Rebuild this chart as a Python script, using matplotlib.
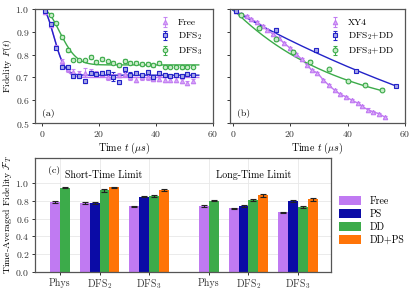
import matplotlib
matplotlib.use("Agg")
import matplotlib.pyplot as plt
import numpy as np

plt.rcParams["font.family"] = ["cmr10", "DejaVu Serif"]
plt.rcParams["mathtext.fontset"] = "cm"
plt.rcParams["axes.formatter.use_mathtext"] = True
plt.rcParams["font.size"] = 7

# panel (a): free decay
t_free = [1, 3, 5, 7, 9, 11, 13, 15, 17, 19, 21, 23, 25, 27, 29, 31, 33, 35, 37, 39, 41, 43, 45, 47, 49, 51, 53]
f_free = [0.985, 0.93, 0.835, 0.77, 0.735, 0.725, 0.72, 0.72, 0.725, 0.72, 0.715, 0.70, 0.705, 0.71, 0.715,
          0.70, 0.69, 0.70, 0.70, 0.695, 0.695, 0.69, 0.69, 0.69, 0.685, 0.675, 0.685]
e_free = [0.005, 0.008, 0.008, 0.01, 0.01, 0.01, 0.01, 0.02, 0.01, 0.01, 0.01, 0.01, 0.01, 0.01, 0.01,
          0.01, 0.01, 0.01, 0.01, 0.01, 0.01, 0.01, 0.01, 0.01, 0.01, 0.01, 0.01]
t_dfs2 = [1, 3, 5, 7, 9, 11, 13, 15, 17, 19, 21, 23, 25, 27, 29, 31, 33, 35, 37, 39, 41, 43, 45, 47, 49, 51, 53]
f_dfs2 = [0.99, 0.934, 0.831, 0.748, 0.748, 0.707, 0.707, 0.685, 0.72, 0.715, 0.719, 0.722, 0.704, 0.678,
          0.735, 0.712, 0.72, 0.709, 0.722, 0.70, 0.72, 0.71, 0.707, 0.712, 0.706, 0.715, 0.71]
e_dfs2 = [0.006, 0.008, 0.008, 0.008, 0.008, 0.01, 0.01, 0.01, 0.008, 0.008, 0.008, 0.01, 0.02, 0.008,
          0.01, 0.01, 0.008, 0.008, 0.01, 0.01, 0.008, 0.008, 0.008, 0.008, 0.008, 0.008, 0.008]
t_dfs3 = [3, 5, 7, 9, 11, 13, 15, 17, 19, 21, 23, 25, 27, 29, 31, 33, 35, 37, 39, 41, 43, 45, 47, 49, 51, 53]
f_dfs3 = [0.975, 0.938, 0.876, 0.82, 0.778, 0.775, 0.775, 0.79, 0.768, 0.78, 0.77, 0.765, 0.755, 0.772,
          0.765, 0.765, 0.76, 0.76, 0.755, 0.762, 0.748, 0.748, 0.748, 0.745, 0.748, 0.748]
e_dfs3 = [0.006, 0.006, 0.008, 0.008, 0.008, 0.008, 0.008, 0.008, 0.008, 0.008, 0.008, 0.008, 0.008, 0.008,
          0.008, 0.008, 0.008, 0.008, 0.008, 0.008, 0.008, 0.008, 0.008, 0.008, 0.008, 0.008]
# fit parameters (offset, amplitude, time constant, exponent)
fit_free = (0.70, 0.30, 5.8, 2.0)
fit_dfs2 = (0.71, 0.29, 5.6, 2.0)
fit_dfs3 = (0.755, 0.245, 8.5, 2.0)

# panel (b): with dynamical decoupling
t_xy4 = [1, 3, 5, 6.5, 8.5, 10.5, 12, 14, 16, 18, 20, 22, 24, 26, 27.5, 29.5, 31.5, 33.5, 35.5, 37.5,
         39.5, 41.5, 43.5, 45, 47, 49, 51, 53]
f_xy4 = [0.99, 0.978, 0.968, 0.956, 0.941, 0.926, 0.909, 0.89, 0.872, 0.85, 0.828, 0.803, 0.78, 0.754,
         0.732, 0.72, 0.69, 0.666, 0.644, 0.626, 0.615, 0.60, 0.588, 0.574, 0.559, 0.549, 0.541, 0.526]
t_dfs2dd = [1, 15, 29, 43, 57]
f_dfs2dd = [0.99, 0.909, 0.82, 0.728, 0.663]
t_dfs3dd = [3, 9, 15, 21, 27, 33.5, 40, 46, 52]
f_dfs3dd = [0.975, 0.916, 0.868, 0.813, 0.769, 0.735, 0.684, 0.669, 0.647]
fit_dfs2dd = (0.0, 0.995, 140.0, 1.0)
fit_dfs3dd = (0.52, 0.48, 38.0, 1.0)

# panel (c): time-averaged fidelity
groups = ["Phys", "DFS$_2$", "DFS$_3$", "Phys", "DFS$_2$", "DFS$_3$"]
group_pos = [0, 4, 9, 15, 19, 24]
methods = ["Free", "PS", "DD", "DD+PS"]
avg_free = [0.79, 0.77, 0.74, 0.74, 0.713, 0.668]
avg_ps = [None, 0.776, 0.843, None, 0.739, 0.795]
avg_dd = [0.944, 0.915, 0.85, 0.80, 0.806, 0.728]
avg_ddps = [None, 0.95, 0.918, None, 0.862, 0.814]
err_free = [0.012, 0.01, 0.006, 0.015, 0.008, 0.006]
err_ps = [None, 0.008, 0.006, None, 0.008, 0.008]
err_dd = [0.005, 0.012, 0.012, 0.005, 0.012, 0.01]
err_ddps = [None, 0.008, 0.008, None, 0.015, 0.012]

c_free = "#c07af2"
c_ps = "#0b0ba6"
c_dd = "#3cab4a"
c_ddps = "#ff7407"
c_line_blue = "#2323c8"


def fit_curve(p, t):
    c, a, tau, n = p
    return c + a * np.exp(-(t / tau) ** n)


fig = plt.figure(figsize=(4.15, 2.91), dpi=100)
ax_a = fig.add_axes([0.0843, 0.577, 0.429, 0.392])
ax_b = fig.add_axes([0.554, 0.577, 0.4217, 0.392])
ax_c = fig.add_axes([0.0843, 0.0653, 0.713, 0.392])

for ax in (ax_a, ax_b, ax_c):
    for s in ax.spines.values():
        s.set_color("#555555")
        s.set_linewidth(0.9)
    ax.tick_params(colors="#333333", length=2.5, width=0.7, pad=1.5, labelsize=7)

tt = np.linspace(0, 55, 300)
ax_a.plot(tt, fit_curve(fit_free, tt), color=c_free, lw=1)
ax_a.plot(tt, fit_curve(fit_dfs2, tt), color=c_line_blue, lw=1)
ax_a.plot(tt, fit_curve(fit_dfs3, tt), color=c_dd, lw=1)
ax_a.errorbar(t_free, f_free, yerr=e_free, fmt="^", ms=3.2, color=c_free, mfc="#d9a8f7", mec=c_free,
              mew=0.8, elinewidth=0.7, capsize=1.5, label="Free", alpha=0.9)
ax_a.errorbar(t_dfs2, f_dfs2, yerr=e_dfs2, fmt="s", ms=3.2, color=c_line_blue, mfc="#a8a8e8", mec=c_line_blue,
              mew=0.8, elinewidth=0.7, capsize=1.5, label="DFS$_2$")
ax_a.errorbar(t_dfs3, f_dfs3, yerr=e_dfs3, fmt="o", ms=3.2, color=c_dd, mfc="#c8ecc8", mec=c_dd,
              mew=0.8, elinewidth=0.7, capsize=1.5, label="DFS$_3$")
ax_a.set_xlim(-2.5, 60)
ax_a.set_ylim(0.5, 1.0)
ax_a.set_xticks([0, 20, 40, 60])
ax_a.set_yticks([0.5, 0.6, 0.7, 0.8, 0.9, 1.0])
ax_a.set_ylabel(r"Fidelity $F(t)$", fontsize=7, labelpad=1)
ax_a.set_xlabel(r"Time $t$ ($\mu s$)", fontsize=7.2, labelpad=1.5)
ax_a.text(0.04, 0.06, "(a)", transform=ax_a.transAxes, fontsize=7)
ax_a.legend(loc="upper right", frameon=False, fontsize=6.8, handlelength=1.2, borderaxespad=0.4,
            labelspacing=0.35, bbox_to_anchor=(0.98, 0.98))

tb = np.linspace(0, 57, 300)
ax_b.plot(t_xy4, f_xy4, color=c_free, lw=1)
ax_b.plot(tb, fit_curve(fit_dfs2dd, tb), color=c_line_blue, lw=1)
ax_b.plot(tb[tb <= 52], fit_curve(fit_dfs3dd, tb[tb <= 52]), color=c_dd, lw=1)
ax_b.errorbar(t_xy4, f_xy4, yerr=0.005, fmt="^", ms=3.2, color=c_free, mfc="#d9a8f7", mec=c_free,
              mew=0.8, elinewidth=0.7, capsize=1.5, label="XY4", ls="none")
ax_b.errorbar(t_dfs2dd, f_dfs2dd, yerr=0.006, fmt="s", ms=3.4, color=c_line_blue, mfc="#a8a8e8",
              mec=c_line_blue, mew=0.8, elinewidth=0.7, capsize=1.5, label="DFS$_2$+DD")
ax_b.errorbar(t_dfs3dd, f_dfs3dd, yerr=0.006, fmt="o", ms=3.4, color=c_dd, mfc="#c8ecc8", mec=c_dd,
              mew=0.8, elinewidth=0.7, capsize=1.5, label="DFS$_3$+DD")
ax_b.set_xlim(-1, 60)
ax_b.set_ylim(0.5, 1.0)
ax_b.set_xticks([0, 20, 40, 60])
ax_b.set_yticks([0.5, 0.6, 0.7, 0.8, 0.9, 1.0])
ax_b.set_yticklabels([])
ax_b.set_xlabel(r"Time $t$ ($\mu s$)", fontsize=7.2, labelpad=1.5)
ax_b.text(0.04, 0.06, "(b)", transform=ax_b.transAxes, fontsize=7)
ax_b.legend(loc="upper right", frameon=False, fontsize=6.8, handlelength=1.2, borderaxespad=0.4,
            labelspacing=0.35, bbox_to_anchor=(0.98, 0.98))

# bars
series = [(avg_free, err_free, c_free), (avg_ps, err_ps, c_ps), (avg_dd, err_dd, c_dd), (avg_ddps, err_ddps, c_ddps)]
for i, (vals, errs, col) in enumerate(series):
    xs, ys, es = [], [], []
    for g, gp in enumerate(group_pos):
        if vals[g] is None:
            continue
        present = [k for k, s in enumerate(series) if s[0][g] is not None]
        xs.append(gp + present.index(i) - (len(present) - 1) / 2)
        ys.append(vals[g])
        es.append(errs[g])
    ax_c.bar(xs, ys, width=1.0, color=col, label=methods[i], zorder=2)
    ax_c.errorbar(xs, ys, yerr=es, fmt="none", ecolor="#222222", elinewidth=0.8, capsize=2, capthick=0.8, zorder=3)

ax_c.set_xlim(-2.5, 27.3)
ax_c.set_ylim(0, 1.28)
ax_c.set_xticks(group_pos)
ax_c.set_xticklabels(groups, fontsize=7.2)
ax_c.set_yticks([0.0, 0.2, 0.4, 0.6, 0.8, 1.0])
ax_c.set_ylabel(r"Time-Averaged Fidelity $\mathcal{F}_T$", fontsize=7, labelpad=1)
ax_c.grid(True, color="#e8e8e8", lw=0.6, zorder=0)
ax_c.set_axisbelow(True)
ax_c.text(0.045, 0.87, "(c)", transform=ax_c.transAxes, fontsize=7)
ax_c.text(4.4, 1.09, "Short-Time Limit", ha="center", va="center", fontsize=7.2)
ax_c.text(19.5, 1.09, "Long-Time Limit", ha="center", va="center", fontsize=7.2)
ax_c.legend(loc="center left", bbox_to_anchor=(1.015, 0.45), frameon=False, fontsize=7.2,
            handlelength=2.2, handleheight=1.0, handletextpad=0.8, labelspacing=0.3, borderaxespad=0)

fig.savefig("out.png", dpi=100)
